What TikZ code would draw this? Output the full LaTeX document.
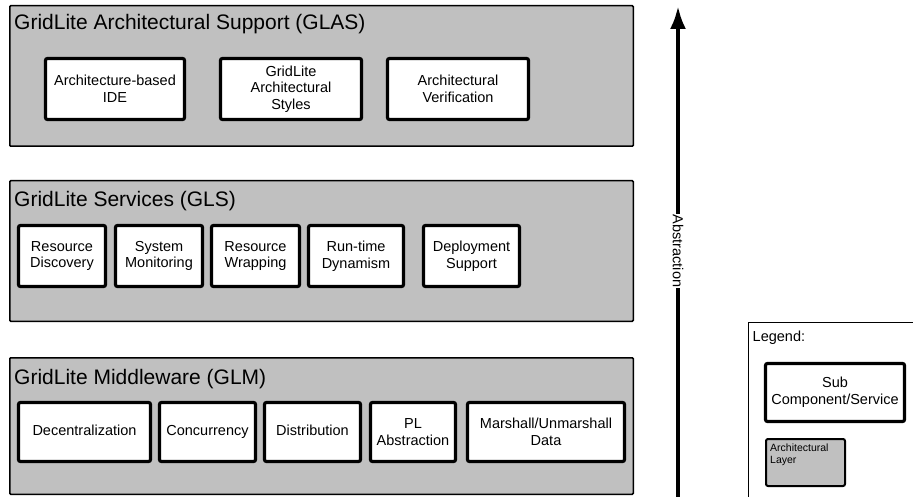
\documentclass[tikz,border=0pt]{standalone}
\usepackage{fontspec}
\setmainfont{Liberation Sans}
\usetikzlibrary{arrows.meta}
\definecolor{layergray}{HTML}{C0C0C0}
\begin{document}
\begin{tikzpicture}[x=1pt,y=-1pt,
  layer/.style={draw=black, fill=layergray, line width=1.5pt, rounded corners=1pt, inner sep=0pt},
  sub/.style={draw=black, fill=white, line width=3.2pt, rounded corners=2pt, align=center, inner sep=1pt,
    font=\fontsize{14.5}{16.7}\selectfont},
  oneline/.style={text height=10.5pt, text depth=3pt},
  ltitle/.style={anchor=base west, inner sep=0pt, font=\fontsize{21}{25}\selectfont},
  legbox/.style={draw=black, fill=layergray, line width=2pt, rounded corners=2pt, inner sep=0pt}]
\useasboundingbox (0,0) rectangle (913,497);
\clip (0,0) rectangle (913,497);
\fill[white] (0,0) rectangle (913,497);

% Layers
\node[layer, minimum width=623.5pt, minimum height=140.5pt] (glas) at (321.5,76) {};
\node[layer, minimum width=623.5pt, minimum height=140.5pt] (gls) at (321.5,251) {};
\node[layer, minimum width=623.5pt, minimum height=136.5pt] (glm) at (321.5,426) {};

\node[ltitle] (tglas) at (14,30) {GridLite Architectural Support (GLAS)};
\node[ltitle] (tgls) at (14,207) {GridLite Services (GLS)};
\node[ltitle] (tglm) at (14,384) {GridLite Middleware (GLM)};

% GLAS components
\node[sub, minimum width=139pt, minimum height=61pt] (ide) at (115,89) {Architecture-based\\IDE};
\node[sub, minimum width=141pt, minimum height=61pt] (styles) at (291,89) {GridLite\\Architectural\\Styles};
\node[sub, minimum width=141pt, minimum height=61pt] (verif) at (458,89) {Architectural\\Verification};

% GLS components
\node[sub, minimum width=87pt, minimum height=61pt] (disc) at (62,256) {Resource\\Discovery};
\node[sub, minimum width=87pt, minimum height=61pt] (mon) at (159,256) {System\\Monitoring};
\node[sub, minimum width=88pt, minimum height=61pt] (wrap) at (255.5,256) {Resource\\Wrapping};
\node[sub, minimum width=95pt, minimum height=61pt] (rt) at (356,256) {Run-time\\Dynamism};
\node[sub, minimum width=96pt, minimum height=61pt] (dep) at (471.5,256) {Deployment\\Support};

% GLM components
\node[sub, oneline, minimum width=132pt, minimum height=59pt] (dec) at (84.5,432) {Decentralization};
\node[sub, oneline, minimum width=96pt, minimum height=59pt] (conc) at (207.5,432) {Concurrency};
\node[sub, oneline, minimum width=96pt, minimum height=59pt] (dist) at (312.5,432) {Distribution};
\node[sub, minimum width=85pt, minimum height=59pt] (pl) at (413,432) {PL\\Abstraction};
\node[sub, minimum width=157pt, minimum height=59pt] (mar) at (546,432) {Marshall/Unmarshall\\Data};

% Abstraction arrow
\coordinate (abot) at (678,500);
\coordinate (atop) at (678,6);
\draw[line width=4pt, -{Latex[length=23pt,width=16pt]}] (abot) -- (atop);
\node[fill=white, rotate=-90, inner sep=1pt, font=\fontsize{14.5}{16.7}\selectfont] (abs) at (678,251) {Abstraction};

% Legend
\node[draw=black, line width=1pt, minimum width=200pt, minimum height=200pt, anchor=north west, inner sep=0pt] (legend) at (748,322) {};
\node[anchor=base west, inner sep=0pt, font=\fontsize{14.5}{16.7}\selectfont] (legtitle) at (752.5,341) {Legend:};
\node[sub, minimum width=139pt, minimum height=58pt] (legsub) at (835,392.5) {Sub\\Component/Service};
\node[legbox, minimum width=79pt, minimum height=47pt] (leglayer) at (805.5,462.5) {};
\node[anchor=north west, align=left, inner sep=0pt, font=\fontsize{10.5}{12}\selectfont] (leglayertext) at (770,444) {Architectural\\Layer};
\end{tikzpicture}
\end{document}
